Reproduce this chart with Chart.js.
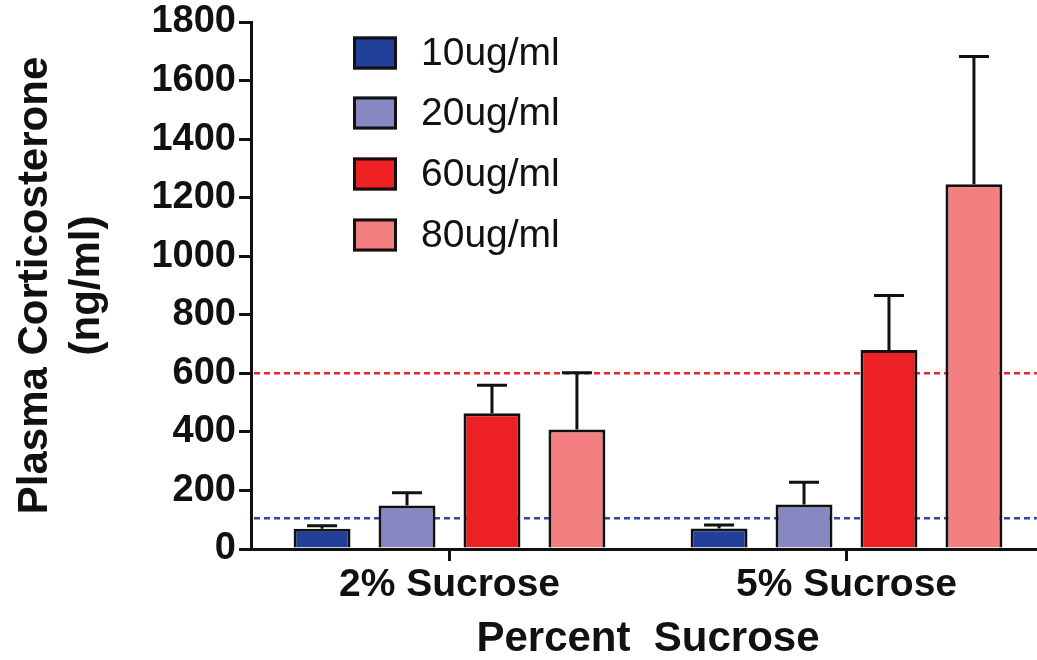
<!DOCTYPE html>
<html><head><meta charset="utf-8">
<script src="https://cdn.jsdelivr.net/npm/chart.js@4.4.0/dist/chart.umd.min.js"></script>
<style>html,body{margin:0;padding:0;overflow:hidden;background:#fff;}#wrap{width:1045px;height:660px;}</style>
</head><body><div id="wrap"><canvas id="c" width="1045" height="660"></canvas></div>
<script>
const categories = ['2% Sucrose', '5% Sucrose'];
const seriesNames = ['10ug/ml', '20ug/ml', '60ug/ml', '80ug/ml'];
const mean10 = [69, 70];
const mean20 = [149, 152];
const mean60 = [464, 680];
const mean80 = [408, 1246];
const sem10 = [10, 12];
const sem20 = [43, 76];
const sem60 = [95, 186];
const sem80 = [194, 436];
const refLineValues = [105, 600];
const refLineColors = ['#2f45a5', '#e8262b'];
const seriesColors = ['#22409a', '#8788c2', '#ed2024', '#f37f80'];
const yTickValues = [0, 200, 400, 600, 800, 1000, 1200, 1400, 1600, 1800];
const yTitle = ['Plasma Corticosterone', '(ng/ml)'];
const xTitle = 'Percent  Sucrose';

const means = [mean10, mean20, mean60, mean80];
const sems = [sem10, sem20, sem60, sem80];
const INK = '#111';
const FONT = "'Liberation Sans', Arial, Helvetica, sans-serif";

const refLinesPlugin = {
  id: 'refLines',
  beforeDatasetsDraw(chart) {
    const {ctx, chartArea, scales: {y}} = chart;
    ctx.save();
    ctx.lineWidth = 2.5;
    ctx.setLineDash([6, 4]);
    refLineValues.forEach((v, i) => {
      const py = y.getPixelForValue(v);
      ctx.strokeStyle = refLineColors[i];
      ctx.beginPath();
      ctx.moveTo(chartArea.left + 3, py);
      ctx.lineTo(chart.width, py);
      ctx.stroke();
    });
    ctx.restore();
  }
};

const errorBarsPlugin = {
  id: 'errorBars',
  afterDatasetsDraw(chart) {
    const {ctx, scales: {y}} = chart;
    ctx.save();
    ctx.strokeStyle = INK;
    ctx.lineWidth = 3;
    ctx.setLineDash([]);
    chart.data.datasets.forEach((ds, i) => {
      const meta = chart.getDatasetMeta(i);
      meta.data.forEach((el, j) => {
        const top = y.getPixelForValue(ds.data[j] + sems[i][j]);
        ctx.beginPath();
        ctx.moveTo(el.x, el.y);
        ctx.lineTo(el.x, top);
        ctx.moveTo(el.x - 15, top);
        ctx.lineTo(el.x + 15, top);
        ctx.stroke();
      });
    });
    ctx.restore();
  }
};

const legendPlugin = {
  id: 'innerLegend',
  afterDraw(chart) {
    const {ctx} = chart;
    ctx.save();
    const rows = [53, 113, 174, 235];
    chart.data.datasets.forEach((ds, i) => {
      const cy = rows[i];
      ctx.fillStyle = ds.backgroundColor;
      ctx.fillRect(353, cy - 16.5, 44, 33);
      ctx.strokeStyle = INK;
      ctx.lineWidth = 3;
      ctx.strokeRect(354.5, cy - 15, 41, 30);
      ctx.fillStyle = INK;
      ctx.font = "39px " + FONT;
      ctx.textBaseline = 'middle';
      ctx.textAlign = 'left';
      ctx.fillText(ds.label, 421, cy + 1);
    });
    ctx.restore();
  }
};

new Chart(document.getElementById('c'), {
  type: 'bar',
  data: {
    labels: categories,
    datasets: seriesNames.map((name, i) => ({
      label: name,
      data: means[i],
      backgroundColor: seriesColors[i],
      borderColor: INK,
      borderWidth: 3,
      categoryPercentage: 0.856,
      barPercentage: 0.67
    }))
  },
  options: {
    responsive: false,
    animation: false,
    layout: {padding: {top: 21, left: 0, right: 0, bottom: 0}},
    plugins: {legend: {display: false}, tooltip: {enabled: false}},
    scales: {
      x: {
        offset: true,
        grid: {offset: false, drawOnChartArea: false, drawTicks: true, tickLength: 12, lineWidth: 3, color: INK},
        border: {display: true, color: INK, width: 3},
        ticks: {color: INK, font: {family: FONT, size: 39, weight: 'bold', lineHeight: 1.0}, padding: 5, maxRotation: 0},
        title: {display: true, text: xTitle, color: INK, font: {family: FONT, size: 42, weight: 'bold', lineHeight: 1.0}, padding: {top: 0, bottom: 0}},
        afterFit(scale) { scale.height = 111; }
      },
      y: {
        min: 0, max: 1800,
        afterBuildTicks(scale) { scale.ticks = yTickValues.map(v => ({value: v})); },
        grid: {drawOnChartArea: false, drawTicks: true, tickLength: 12, lineWidth: 3, color: INK},
        border: {display: true, color: INK, width: 3},
        ticks: {color: INK, font: {family: FONT, size: 38, weight: 'bold', lineHeight: 1.0}, padding: 3,
                callback: (v) => String(v)},
        title: {display: true, text: yTitle, color: INK, font: {family: FONT, size: 42, weight: 'bold', lineHeight: 1.24}, padding: {top: 9, bottom: 0}},
        afterFit(scale) { scale.width = 251; }
      }
    }
  },
  plugins: [refLinesPlugin, errorBarsPlugin, legendPlugin]
});
</script>
</body></html>
